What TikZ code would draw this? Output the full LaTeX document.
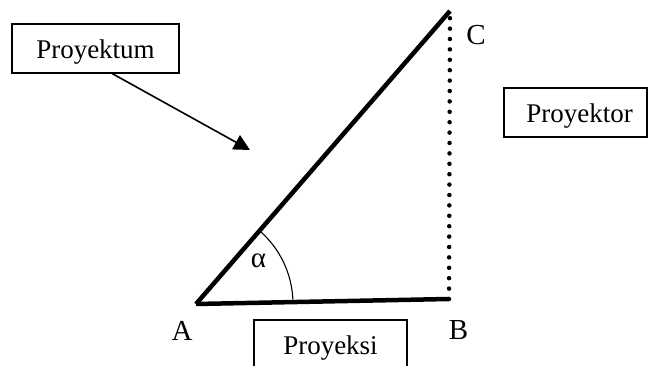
\documentclass[tikz,border=0pt]{standalone}
\usepackage{fontspec}
\setmainfont{Liberation Serif}
\usetikzlibrary{positioning,calc}
\usetikzlibrary{arrows.meta}
\tikzset{
  side/.style={draw=black,line width=4.5pt},
  proj/.style={draw=black,line width=4.5pt,line cap=round,dash pattern=on 0pt off 10.4pt},
  namebox/.style={draw=black,line width=1.3pt,fill=white,inner sep=0pt,minimum height=49pt,
    text height=20pt,text depth=0pt,font=\fontsize{27}{30}\selectfont},
}
\tikzset{lab/.style={inner sep=0pt,font=\fontsize{29}{32}\selectfont}, pointer/.style={draw=black,line width=1.6pt,-{Triangle[length=16pt,width=16pt]}}}

\begin{document}
\begin{tikzpicture}[x=1pt,y=1pt]
\useasboundingbox (0,0) rectangle (651,366);
\coordinate (A) at (196,62);
\coordinate (B) at (449,67);
\coordinate (C) at (450,355);
\draw[proj] (B)--(C);
\draw[side] (A)--(C);
\draw[side] (A)--(B);
\draw[line width=1.1pt] ($(A)+(1.1:97)$) arc[start angle=1.1,end angle=49,radius=97];
\node[lab] (labA) at (182,35.5) {A};
\node[lab] (labB) at (458.5,35.5) {B};
\node[lab] (labC) at (476,331) {C};
\node[lab] (alpha) at (258.5,105.5) {α};
\node[namebox,minimum width=167pt] (proyektum) at (95.5,317.5) {Proyektum};
\node[namebox,minimum width=143pt] (proyektor) at (575.5,253.5) {\hspace{8pt}Proyektor};
\node[namebox,minimum width=153pt] (proyeksi) at (330.5,21.5) {Proyeksi};
\coordinate (tip) at (250,216);
\draw[pointer] ($(proyektum.south west)!0.6!(proyektum.south east)$) -- (tip);
\end{tikzpicture}
\end{document}
